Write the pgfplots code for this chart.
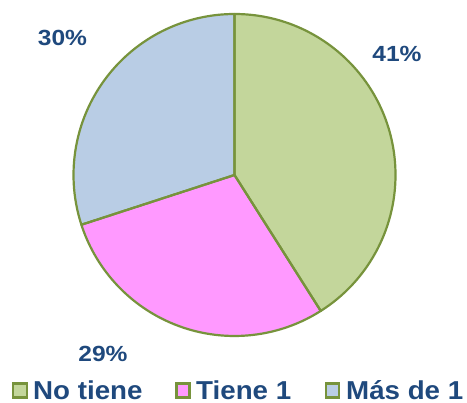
\documentclass[border=0pt]{standalone}
\usepackage{pgfplots}
\pgfplotsset{compat=1.18}
\usepackage{pgfplotstable}
\usepackage{fontspec}
\setmainfont{Liberation Sans}
\definecolor{cgreen}{RGB}{195,214,155}
\definecolor{cpink}{RGB}{255,153,255}
\definecolor{cblue}{RGB}{185,205,229}
\definecolor{cborder}{RGB}{119,147,60}
\definecolor{ctext}{RGB}{31,73,125}
\pgfplotstableread{
label value
NoTiene 41
Tiene1 29
MasDe1 30
}\piedata
\pgfplotstablegetelem{0}{value}\of\piedata\pgfmathsetmacro\aA{90-3.6*\pgfplotsretval}
\pgfplotstablegetelem{1}{value}\of\piedata\pgfmathsetmacro\aB{\aA-3.6*\pgfplotsretval}
\pgfplotstablegetelem{2}{value}\of\piedata\pgfmathsetmacro\aC{\aB-3.6*\pgfplotsretval}
\begin{document}
\begin{tikzpicture}
\begin{axis}[scale only axis, width=467bp, height=403bp,
  xmin=0, xmax=467, ymin=0, ymax=403, hide axis, clip=false]
\path (axis cs:0,0) (axis cs:467,403);
% slices
\fill[cgreen] (axis cs:234.5,228) -- ++(90:161bp) arc[start angle=90, end angle=\aA, radius=161bp] -- cycle;
\fill[cpink] (axis cs:234.5,228) -- ++(\aA:161bp) arc[start angle=\aA, end angle=\aB, radius=161bp] -- cycle;
\fill[cblue] (axis cs:234.5,228) -- ++(\aB:161bp) arc[start angle=\aB, end angle=\aC, radius=161bp] -- cycle;
\draw[cborder, line width=2.2bp, line join=round] (axis cs:234.5,228) -- ++(90:161bp) arc[start angle=90, end angle=\aA, radius=161bp] -- cycle;
\draw[cborder, line width=2.2bp, line join=round] (axis cs:234.5,228) -- ++(\aA:161bp) arc[start angle=\aA, end angle=\aB, radius=161bp] -- cycle;
\draw[cborder, line width=2.2bp, line join=round] (axis cs:234.5,228) -- ++(\aB:161bp) arc[start angle=\aB, end angle=\aC, radius=161bp] -- cycle;
% percentage labels
\begin{scope}[every node/.style={font=\bfseries\fontsize{22}{23}\selectfont, text=ctext, inner sep=0}]
\node at (axis cs:397,349) {\scalebox{1.12}[1]{41\%}};
\node at (axis cs:62.5,365) {\scalebox{1.12}[1]{30\%}};
\node at (axis cs:103,49.5) {\scalebox{1.12}[1]{29\%}};
\end{scope}
% legend
\begin{scope}[every node/.style={font=\bfseries\fontsize{26}{27}\selectfont, text=ctext, inner sep=0, anchor=base west}]
\draw[cborder, fill=cgreen, line width=2.5bp] (axis cs:13,5.5) rectangle (axis cs:27,19.5);
\node at (axis cs:33,4) {\scalebox{1.07}[1]{No tiene}};
\draw[cborder, fill=cpink, line width=2.5bp] (axis cs:176.5,5.5) rectangle (axis cs:189.5,19.5);
\node at (axis cs:196,4) {\scalebox{1.07}[1]{Tiene 1}};
\draw[cborder, fill=cblue, line width=2.5bp] (axis cs:326,5.5) rectangle (axis cs:339,19.5);
\node at (axis cs:346,4) {\scalebox{1.07}[1]{Más de 1}};
\end{scope}
\end{axis}
\end{tikzpicture}
\end{document}
